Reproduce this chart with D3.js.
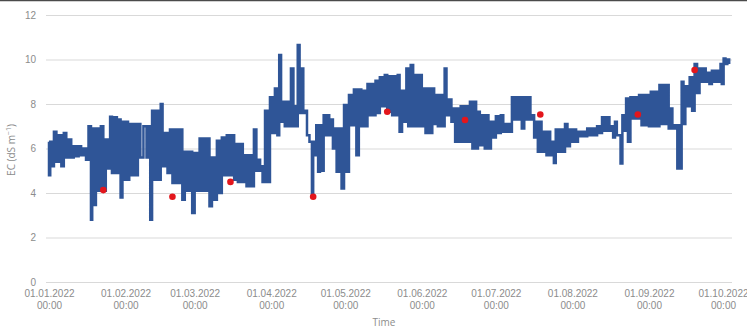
<!DOCTYPE html>
<html>
<head>
<meta charset="utf-8">
<script src="https://cdn.jsdelivr.net/npm/d3@7"></script>
<style>
  body { margin: 0; background: #fff; }
  svg { display: block; font-family: "Open Sans", sans-serif; }
</style>
</head>
<body>
<div id="chart"></div>
<script>
// days after 01.01.2022 for each block of readings, with the block's high and low EC
const dayOffset = [0,1,3,5,7,9,11,13,15,17,
  18,20,22,24,25.5,27.5,29,30.5,32,33,
  35,37,39.5,41,42.5,44.5,46,48,50,52,
  54,56,58,60,62,63.5,65,67,69,71,
  73,75,76.5,78.5,80,82,84,85.5,86.5,88.5,
  90.5,92.5,94,95.5,97,99,100,101.5,103,104.5,
  106.5,107.5,109,110.5,112,113.5,115,116.5,118.5,120.5,
  122.5,124.5,126.5,128,130,131.5,133,135,137,139,
  140.5,142,144,145.5,147.5,149.5,151,152.5,154.5,156,
  157.5,159.5,161,163,164.5,166,167.5,169.5,171.5,173,
  174.5,176.5,178,180,182,184,185.5,186.5,188.5,190,
  191.5,193.5,195,196.5,198,199.5,201.5,203,204.5,206,
  208,210,212,213.5,215,217,219,221,223,225,
  227,228.5,230,231.5,233,234.5,236.5,238,240,241.5,
  243,244.5,246.5,248,249.5,251,252.5,254.5,255.5,257,
  258.5,260.5,262.5,264.5,266,267.5,269.5,271.5,272.5,274,
  275.5];

const ecHigh = [6.3,6.3,6.75,6.6,6.7,6.4,6.1,6.1,6.0,7.0,
  6.9,6.9,7.0,6.4,7.43,7.4,7.3,7.2,7.2,7.1,
  7.1,7.1,7.0,7.0,7.7,7.7,8.0,6.7,6.85,6.85,
  6.85,5.85,5.85,5.8,6.45,6.45,6.45,5.6,6.35,6.5,
  6.6,6.6,6.2,6.2,5.7,5.7,6.85,5.5,5.2,7.7,
  8.3,8.7,10.2,8.1,8.1,9.6,7.9,10.65,9.6,7.7,
  6.3,6.3,7.05,7.05,7.5,7.5,7.3,6.9,6.9,7.95,
  8.4,8.65,8.65,8.6,8.9,8.9,9.05,9.2,9.3,9.25,
  9.25,9.3,8.6,9.6,9.75,9.3,9.3,8.7,8.7,8.7,
  8.4,8.4,9.6,8.2,7.8,7.8,7.9,7.9,8.1,8.1,
  7.65,7.5,7.5,7.2,7.45,7.5,7.1,7.1,8.3,8.3,
  8.3,8.3,8.3,7.5,7.2,7.2,6.75,6.75,6.3,6.85,
  6.85,7.1,6.85,6.85,6.75,6.75,6.9,6.9,7.0,7.4,
  7.4,7.0,7.2,6.6,7.5,8.25,8.3,8.3,8.4,8.4,
  8.4,8.55,8.55,8.85,8.85,8.85,7.8,7.05,7.05,9.0,
  8.8,9.2,9.8,9.6,9.6,9.4,9.5,9.5,9.8,10.05,
  10.0];

const ecLow = [4.8,5.2,5.4,5.2,5.6,5.6,5.65,5.7,5.5,2.8,
  3.46,4.1,4.1,5.1,4.9,4.9,3.8,4.6,4.6,4.8,
  4.8,5.6,5.6,2.8,4.6,4.6,5.2,4.9,4.45,4.45,
  3.7,4.1,3.1,4.1,4.1,4.1,3.4,3.7,4.0,4.8,
  4.8,4.6,4.5,4.5,4.3,4.3,5.0,5.0,4.5,4.5,
  6.7,6.6,7.2,7.0,7.0,7.0,7.0,7.6,7.6,6.6,
  3.83,5.7,4.95,5.0,6.6,6.6,6.0,4.95,4.2,4.95,
  7.05,5.7,7.0,7.0,7.5,7.5,7.6,7.9,7.65,7.5,
  7.5,6.75,7.2,7.0,7.0,7.0,7.0,6.7,6.7,7.1,
  7.0,7.0,7.5,7.2,6.3,6.3,6.3,6.3,6.0,6.0,
  6.15,6.0,6.0,6.5,6.7,6.75,6.75,6.75,7.3,7.3,
  6.9,7.3,7.3,6.5,5.85,5.85,5.7,5.7,5.35,5.85,
  5.85,6.1,6.3,6.3,6.55,6.55,6.6,6.6,6.7,6.8,
  6.8,6.5,6.6,5.33,6.8,6.3,7.35,7.35,7.05,7.05,
  7.0,7.0,7.0,7.1,7.1,6.9,6.9,5.1,5.1,7.1,
  7.9,7.7,8.5,9.0,9.0,8.9,9.0,9.0,8.9,9.8,
  9.8];

// lab samples (red dots)
const sampleDay = [22, 50, 73.5, 107, 137, 168.5, 199, 238.5, 261.5];
const sampleEC  = [4.13, 3.83, 4.5, 3.83, 7.65, 7.28, 7.53, 7.53, 9.53];

const tickLabels = ["01.01.2022","01.02.2022","01.03.2022","01.04.2022","01.05.2022",
                    "01.06.2022","01.07.2022","01.08.2022","01.09.2022","01.10.2022"];
const yTicks = [0, 2, 4, 6, 8, 10, 12];

const W = 747, H = 330;
const start = new Date(2022, 0, 1);
const toDate = d => new Date(start.getTime() + d * 864e5);
const parseLabel = s => { const p = s.split("."); return new Date(+p[2], +p[1] - 1, +p[0]); };

const svg = d3.select("#chart").append("svg")
  .attr("width", W).attr("height", H);

// thin dark edge along the top of the scan
svg.append("line").attr("x1", 0).attr("x2", W).attr("y1", 0.5).attr("y2", 0.5)
  .attr("stroke", "#4a4a4a").attr("stroke-width", 1.5);

const x = d3.scaleTime()
  .domain([new Date(2022, 0, 1), new Date(2022, 9, 1)])
  .range([49, 723]);
const y = d3.scaleLinear().domain([0, 12]).range([282, 15]);

const gridLeft = 46, gridRight = 732;

// y axis + gridlines
const yAxis = svg.append("g")
  .attr("transform", `translate(${gridLeft},0)`)
  .call(d3.axisLeft(y).tickValues(yTicks).tickSize(-(gridRight - gridLeft)).tickPadding(10));
yAxis.select(".domain").remove();
yAxis.selectAll(".tick line").attr("stroke", "#d9d9d9").attr("stroke-width", 1.2);
yAxis.selectAll(".tick text").attr("fill", "#8c8c8c").style("font-size", "10px");

// x axis labels (two lines)
const xAxis = svg.append("g")
  .attr("transform", "translate(0,287)")
  .call(d3.axisBottom(x).tickValues(tickLabels.map(parseLabel)).tickSize(0).tickPadding(0)
    .tickFormat((d, i) => tickLabels[i]));
xAxis.select(".domain").remove();
xAxis.selectAll(".tick text").each(function(d, i) {
  const t = d3.select(this).text(null).attr("fill", "#8c8c8c").style("font-size", "10px").attr("y", 0);
  t.append("tspan").attr("x", 0).attr("dy", "1.0em").text(tickLabels[i]);
  t.append("tspan").attr("x", 0).attr("dy", "1.2em").text("00:00");
});

// axis titles
svg.append("text")
  .attr("x", 384).attr("y", 326)
  .attr("text-anchor", "middle")
  .attr("fill", "#8c8c8c").style("font-size", "10px")
  .text("Time");

const yTitle = svg.append("text")
  .attr("transform", "translate(15,150) rotate(-90)")
  .attr("text-anchor", "middle")
  .attr("fill", "#8c8c8c").style("font-size", "10px");
yTitle.append("tspan").text("EC (dS m");
yTitle.append("tspan").attr("dy", -4).style("font-size", "7px").text("−1");
yTitle.append("tspan").attr("dy", 4).text(")");

// EC series: each block drawn from its high to its low reading
const pts = [];
dayOffset.forEach((d, i) => {
  pts.push([toDate(d), ecHigh[i]]);
  pts.push([toDate(d), ecLow[i]]);
});

const line = d3.line()
  .x(p => x(p[0]))
  .y(p => y(p[1]))
  .curve(d3.curveStep);

svg.append("path")
  .datum(pts)
  .attr("d", line)
  .attr("fill", "none")
  .attr("stroke", "#2f5597")
  .attr("stroke-width", 2.5)
  .attr("stroke-linejoin", "miter");

// sample points
svg.append("g").selectAll("circle")
  .data(sampleDay)
  .join("circle")
  .attr("cx", d => x(toDate(d)))
  .attr("cy", (d, i) => y(sampleEC[i]))
  .attr("r", 3.3)
  .attr("fill", "#e3161c");
</script>
</body>
</html>
